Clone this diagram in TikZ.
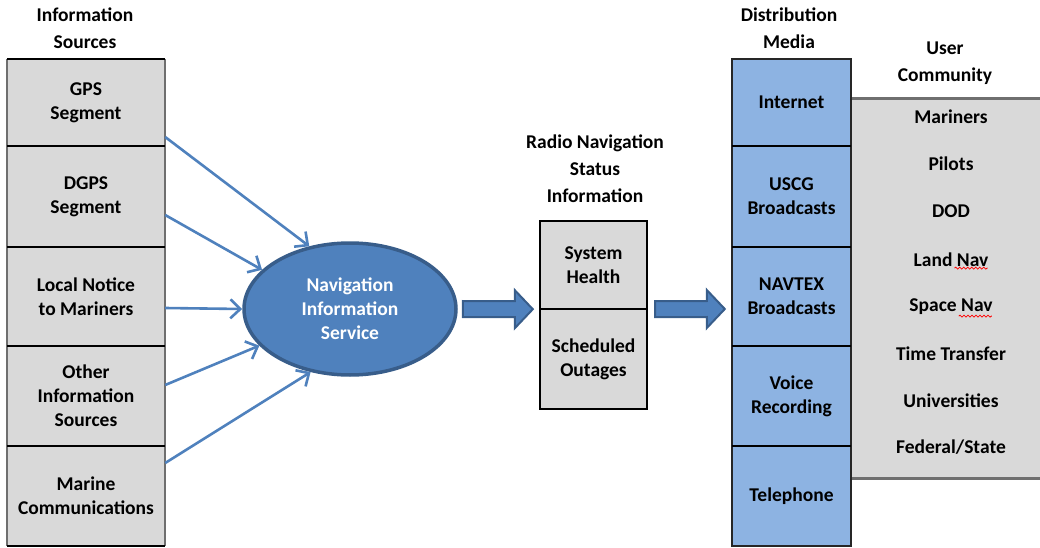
\documentclass[tikz,border=0pt]{standalone}
\usepackage{fontspec}
\setmainfont{Carlito}
\usetikzlibrary{shapes.geometric,calc,decorations.pathmorphing,arrows.meta}
\definecolor{boxgray}{HTML}{D9D9D9}
\definecolor{edgegray}{HTML}{6F6F6F}
\definecolor{nisblue}{HTML}{4F81BD}
\definecolor{nisedge}{HTML}{385D8A}
\definecolor{distblue}{HTML}{8DB3E2}
\definecolor{arrblue}{HTML}{4F81BD}
\begin{document}
\begin{tikzpicture}[x=1pt,y=-1pt,
  every node/.style={font=\fontsize{19.5}{24}\selectfont\bfseries, align=center, inner sep=0pt},
  graybox/.style={fill=boxgray, minimum width=158pt},
  distbox/.style={fill=distblue, minimum width=119pt},
  title/.style={font=\fontsize{19.5}{27}\selectfont\bfseries},
  feed/.style={draw=arrblue, line width=2.6pt, -{Straight Barb[length=10pt,width=19pt,line width=2.6pt]}},
  blockarrow/.style={fill=nisblue, draw=nisedge, line width=2pt, line join=miter},
  sep/.style={draw=black, line width=1.8pt},
  side/.style={draw=edgegray, line width=2.4pt},
  squiggle/.style={draw=red, line width=0.8pt, decorate, decoration={snake, segment length=4pt, amplitude=1pt}}
]
\useasboundingbox (0,0) rectangle (1040,548);

% ---- titles
\node[title] (t1) at (85,28.5) {Information\\Sources};
\node[title] (t2) at (595,169) {Radio Navigation\\Status\\Information};
\node[title] (t3) at (789,28.5) {Distribution\\Media};
\node[title] (t4) at (945,63.5) {User\\Community};

% ---- information sources column
\node[graybox, minimum height=87pt]  (s1) at (86,102.5) {GPS\\Segment};
\node[graybox, minimum height=101pt] (s2) at (86,196.5) {DGPS\\Segment};
\node[graybox, minimum height=99pt]  (s3) at (86,296.5) {Local Notice\\to Mariners};
\node[graybox, minimum height=100pt] (s4) at (86,396) {Other\\Information\\Sources};
\node[graybox, minimum height=100pt] (s5) at (86,496) {Marine\\Communications};
\draw[side] (s1.north west) -- (s5.south west);
\draw[side] (s1.north east) -- (s5.south east);
\foreach \n in {s1,s2,s3,s4,s5} {\draw[sep] (\n.north west) -- (\n.north east);}
\draw[sep] (s5.south west) -- (s5.south east);

% ---- navigation information service
\node[ellipse, fill=nisblue, draw=nisedge, line width=3.5pt, minimum width=212pt, minimum height=132pt,
      text=white] (nis) at (350,309) {Navigation\\Information\\Service};

\draw[feed] ($(s1.east)+(0,34.5)$) -- (nis.123);
\draw[feed] ($(s2.east)+(0,18.5)$) -- (nis.156);
\draw[feed] ($(s3.east)+(0,11.5)$) -- (nis.180);
\draw[feed] ($(s4.east)+(0,-11)$) -- (nis.202);
\draw[feed] ($(s5.east)+(0,-33)$) -- (nis.238);

% ---- status information
\node[fill=boxgray, minimum width=107pt, minimum height=88pt]  (m1) at (593.5,265) {System\\Health};
\node[fill=boxgray, minimum width=107pt, minimum height=100pt] (m2) at (593.5,359) {Scheduled\\Outages};
\draw[sep] (m1.north west) rectangle (m2.south east);
\draw[sep] (m1.south west) -- (m1.south east);

% ---- distribution media column
\node[distbox, minimum height=87pt]  (d1) at (791.5,102.5) {Internet};
\node[distbox, minimum height=101pt] (d2) at (791.5,196.5) {USCG\\Broadcasts};
\node[distbox, minimum height=99pt]  (d3) at (791.5,296.5) {NAVTEX\\Broadcasts};
\node[distbox, minimum height=100pt] (d4) at (791.5,396) {Voice\\Recording};
\node[distbox, minimum height=100pt] (d5) at (791.5,496) {Telephone};

% ---- user community
\node[fill=boxgray, minimum width=200pt, minimum height=379pt] (uc) at (951,288.5) {};
\draw[draw=edgegray, line width=3pt] (uc.north west) -- (uc.north east);
\draw[draw=edgegray, line width=3pt] (uc.south west) -- (uc.south east);
\node (u1) at (951,117) {Mariners};
\node (u2) at (951,164) {Pilots};
\node (u3) at (951,211) {DOD};
\node (u4) at (951,260) {Land Nav};
\node (u5) at (951,307) {Space Nav};
\node (u6) at (951,354) {Time Transfer};
\node (u7) at (951,401) {Universities};
\node (u8) at (951,447) {Federal/State};
\draw[squiggle] ($(u4.south east)+(-34,1)$) -- ($(u4.south east)+(-1,1)$);
\draw[squiggle] ($(u5.south east)+(-34,1)$) -- ($(u5.south east)+(-1,1)$);

\draw[draw=black!85, line width=1.8pt] (d1.north west) rectangle (d5.south east);
\foreach \n in {d2,d3,d4,d5} {\draw[sep] (\n.north west) -- (\n.north east);}

% ---- block arrows
\coordinate (a1s) at ($(nis.east)+(5,0)$);
\coordinate (a1t) at ($(m1.south west)+(-7,0)$);
\draw[blockarrow] ($(a1s)+(0,-8)$) -- ($(a1t)+(-18,-8)$) -- ($(a1t)+(-18,-19)$) -- (a1t)
  -- ($(a1t)+(-18,19)$) -- ($(a1t)+(-18,8)$) -- ($(a1s)+(0,8)$) -- cycle;
\coordinate (a2s) at ($(m1.south east)+(8,0)$);
\coordinate (a2t) at ($(d3.west)+(-7,12.5)$);
\draw[blockarrow] ($(a2s)+(0,-8)$) -- ($(a2t)+(-18,-8)$) -- ($(a2t)+(-18,-19)$) -- (a2t)
  -- ($(a2t)+(-18,19)$) -- ($(a2t)+(-18,8)$) -- ($(a2s)+(0,8)$) -- cycle;
\end{tikzpicture}
\end{document}
